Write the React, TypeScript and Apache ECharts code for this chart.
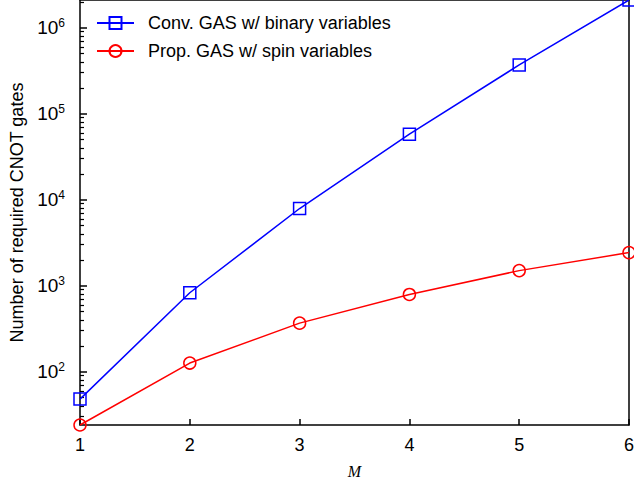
import React, { useEffect, useRef } from "react";
import * as echarts from "echarts";

const mValues = [1, 2, 3, 4, 5, 6];
const convBinary = [48, 828, 7900, 57800, 369000, 2100000];
const propSpin = [24, 126, 367, 791, 1497, 2427];
const majorTicks = [100, 1000, 10000, 100000, 1000000];
const minorMultipliers = [2, 3, 4, 5, 6, 7, 8, 9];
const seriesNames = ["Conv. GAS w/ binary variables", "Prop. GAS w/ spin variables"];

const SANS = "'Liberation Sans', Arial, Helvetica, sans-serif";

export default function App() {
  const ref = useRef<HTMLDivElement>(null);
  useEffect(() => {
    if (!ref.current) return;
    const chart = echarts.init(ref.current, undefined, { renderer: "svg" });
    const yMin = Math.min(...propSpin);
    const yMax = Math.max(...convBinary);
    const minorTicks: number[] = [];
    [10, 100, 1000, 10000, 100000, 1000000].forEach((d) =>
      minorMultipliers.forEach((m) => {
        const v = d * m;
        if (v >= yMin && v <= yMax) minorTicks.push(v);
      })
    );
    const black = "#000";
    chart.setOption({
      animation: false,
      backgroundColor: "#fff",
      textStyle: { fontFamily: SANS },
      grid: { left: 80, right: 5, top: 0, bottom: 53, containLabel: false, outerBoundsMode: "none" },
      legend: {
        orient: "vertical",
        left: 96,
        top: 14,
        padding: 0,
        itemWidth: 37,
        itemHeight: 15,
        itemGap: 10,
        textStyle: { fontSize: 18, fontFamily: SANS, color: "#000", padding: [0, 0, 0, 9] },
        data: seriesNames,
      },
      xAxis: [
        {
          type: "value",
          position: "bottom",
          min: 1,
          max: 6,
          interval: 1,
          name: "M",
          nameLocation: "middle",
          nameGap: 38,
          nameTextStyle: {
            fontFamily: "'Liberation Serif', 'DejaVu Serif', serif",
            fontStyle: "italic",
            fontSize: 16,
            color: "#000",
          },
          axisLine: { show: true, lineStyle: { color: black, width: 1.5 } },
          axisTick: { show: true, inside: true, length: 6, lineStyle: { color: black, width: 1.5 } },
          axisLabel: { fontSize: 18, color: black, margin: 11, fontFamily: SANS },
          splitLine: { show: false },
        },
        {
          type: "value",
          position: "top",
          min: 1,
          max: 6,
          interval: 1,
          axisLine: { show: true, lineStyle: { color: black, width: 1.5 } },
          axisTick: { show: false },
          axisLabel: { show: false },
          splitLine: { show: false },
        },
      ],
      yAxis: [
        {
          type: "log",
          logBase: 10,
          position: "left",
          min: yMin,
          max: yMax,
          name: "Number of required CNOT gates",
          nameLocation: "middle",
          nameGap: 52,
          nameTextStyle: { fontSize: 18, color: black, fontFamily: SANS },
          axisLine: { show: true, lineStyle: { color: black, width: 1.5 } },
          axisTick: {
            show: true,
            inside: true,
            length: 7,
            customValues: majorTicks,
            lineStyle: { color: black, width: 1.5 },
          },
          axisLabel: {
            customValues: majorTicks,
            margin: 15,
            formatter: (v: number) => `{b|10}{s|${Math.round(Math.log10(v))}}`,
            rich: {
              b: { fontSize: 19, lineHeight: 22, color: black, fontFamily: SANS },
              s: { fontSize: 12, lineHeight: 14, verticalAlign: "top", color: black, fontFamily: SANS },
            },
          },
          splitLine: { show: false },
        },
        {
          type: "log",
          logBase: 10,
          position: "left",
          min: yMin,
          max: yMax,
          axisLine: { show: false },
          axisTick: {
            show: true,
            inside: true,
            length: 4,
            customValues: minorTicks,
            lineStyle: { color: black, width: 1.2 },
          },
          axisLabel: { show: false },
          splitLine: { show: false },
        },
        {
          type: "log",
          logBase: 10,
          position: "right",
          min: yMin,
          max: yMax,
          axisLine: { show: true, lineStyle: { color: black, width: 1.5 } },
          axisTick: { show: false },
          axisLabel: { show: false },
          splitLine: { show: false },
        },
      ],
      series: [
        {
          name: seriesNames[0],
          type: "line",
          xAxisIndex: 0,
          yAxisIndex: 0,
          data: mValues.map((m, i) => [m, convBinary[i]]),
          symbol: "rect",
          symbolSize: 12,
          clip: false,
          lineStyle: { color: "#0000ff", width: 1.5 },
          itemStyle: { color: "transparent", borderColor: "#0000ff", borderWidth: 1.5 },
          emphasis: { disabled: true },
          z: 3,
        },
        {
          name: seriesNames[1],
          type: "line",
          xAxisIndex: 0,
          yAxisIndex: 0,
          data: mValues.map((m, i) => [m, propSpin[i]]),
          symbol: "circle",
          symbolSize: 12,
          clip: false,
          lineStyle: { color: "#ff0000", width: 1.5 },
          itemStyle: { color: "transparent", borderColor: "#ff0000", borderWidth: 1.5 },
          emphasis: { disabled: true },
          z: 3,
        },
      ],
    });
    return () => chart.dispose();
  }, []);
  return (
    <div
      ref={ref}
      style={{ position: "fixed", left: 0, top: 0, width: 634, height: 478, background: "#fff" }}
    />
  );
}
